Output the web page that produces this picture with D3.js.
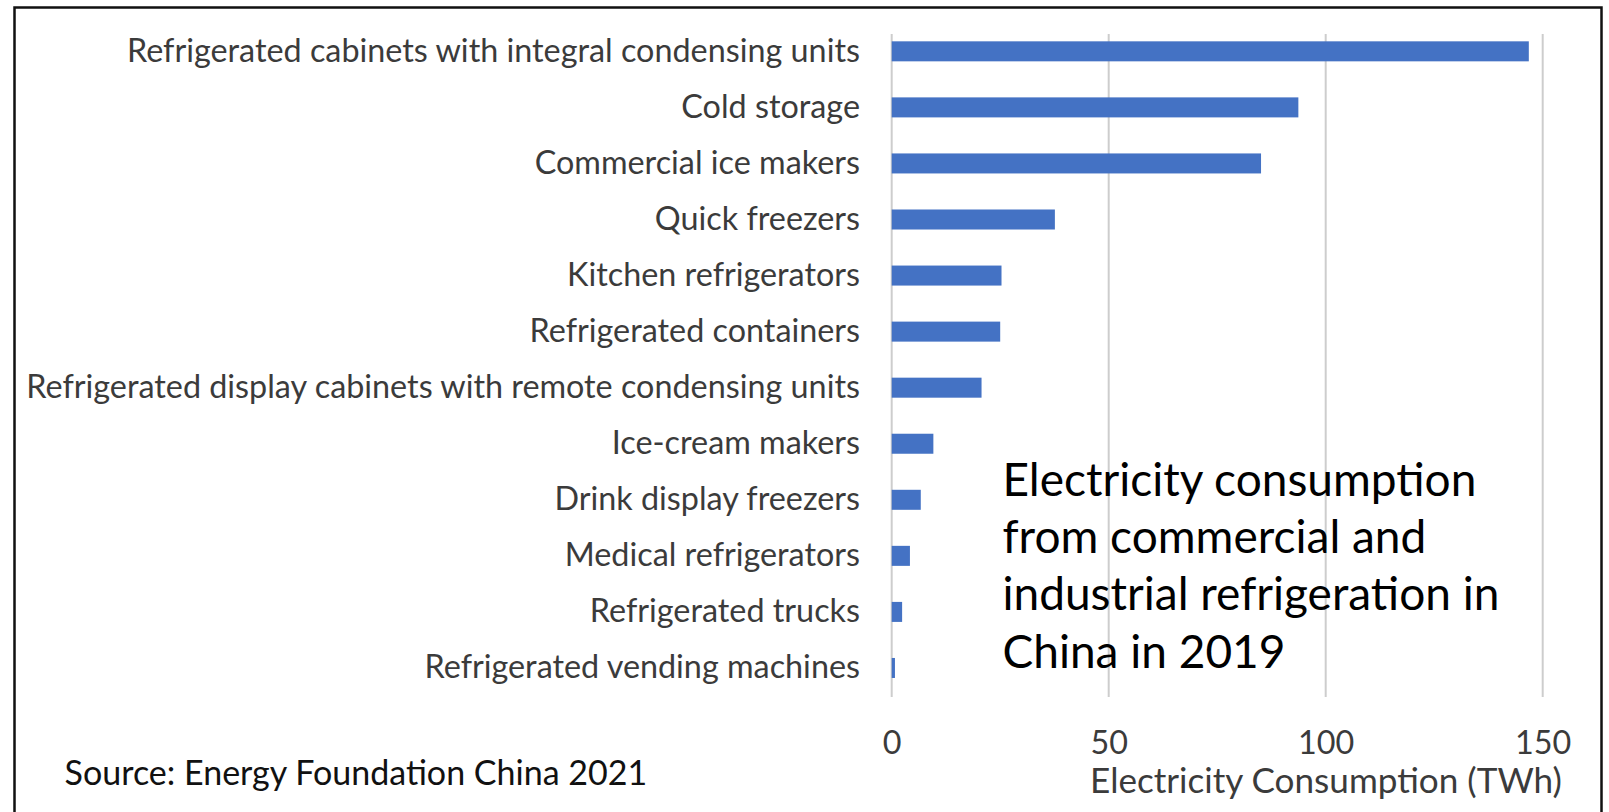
<!DOCTYPE html>
<html>
<head>
<meta charset="utf-8">
<script src="https://cdn.jsdelivr.net/npm/d3@7"></script>
<style>
  html, body { margin: 0; padding: 0; background: #fff; }
  svg { display: block; }
</style>
</head>
<body>
<svg id="chart" width="1609" height="812"></svg>
<script>
// Electricity use by refrigeration equipment type, China 2019 (TWh)
const categories = [
  "Refrigerated cabinets with integral condensing units",
  "Cold storage",
  "Commercial ice makers",
  "Quick freezers",
  "Kitchen refrigerators",
  "Refrigerated containers",
  "Refrigerated display cabinets with remote condensing units",
  "Ice-cream makers",
  "Drink display freezers",
  "Medical refrigerators",
  "Refrigerated trucks",
  "Refrigerated vending machines"
];
const consumption = [146.8, 93.7, 85.1, 37.6, 25.3, 25.0, 20.7, 9.6, 6.7, 4.2, 2.4, 0.75];
const tickValues = [0, 50, 100, 150];
const axisTitle = "Electricity Consumption (TWh)";
const noteLines = [
  "Electricity consumption",
  "from commercial and",
  "industrial refrigeration in",
  "China in 2019"
];
const sourceText = "Source: Energy Foundation China 2021";

const svg = d3.select("#chart");
const labelFont = "Lato, 'Open Sans', sans-serif";

// fit a text element's font size to a target width
function fitWidth(sel, target) {
  sel.attr("font-size", 100);
  const w = sel.node().getComputedTextLength();
  sel.attr("font-size", 100 * target / w);
  return 100 * target / w;
}

// outer frame
svg.append("rect")
  .attr("x", 14.5).attr("y", 7.5)
  .attr("width", 1587).attr("height", 820)
  .attr("fill", "none")
  .attr("stroke", "#111")
  .attr("stroke-width", 2.5);

const x = d3.scaleLinear().domain([0, 150]).range([891.7, 1542.7]);
const y = d3.scaleBand().domain(categories).range([23.3, 696]).paddingInner(0.643).paddingOuter(0.3215);

// vertical gridlines
svg.append("g").selectAll("line")
  .data(tickValues)
  .join("line")
  .attr("x1", d => x(d)).attr("x2", d => x(d))
  .attr("y1", 34).attr("y2", 697)
  .attr("stroke", "#cdcdcd")
  .attr("stroke-width", 2);

// bars
svg.append("g").selectAll("rect")
  .data(consumption)
  .join("rect")
  .attr("x", x(0))
  .attr("y", (d, i) => y(categories[i]))
  .attr("width", d => x(d) - x(0))
  .attr("height", y.bandwidth())
  .attr("fill", "#4472C4");

// category labels
const catG = svg.append("g")
  .attr("font-family", labelFont)
  .attr("fill", "#3b3b3b")
  .attr("text-anchor", "end");
const cats = catG.selectAll("text")
  .data(categories)
  .join("text")
  .attr("x", 860)
  .attr("y", d => y(d) + y.bandwidth() / 2 + 10.5)
  .text(d => d);
// size all labels from the longest one
const longest = cats.filter(d => d === categories[6]);
const catSize = fitWidth(longest, 834);
cats.attr("font-size", catSize);

// x axis tick labels
const xAxis = d3.axisBottom(x).tickValues(tickValues).tickSize(0).tickPadding(0);
const axG = svg.append("g")
  .attr("transform", "translate(0,754)")
  .call(xAxis);
axG.select(".domain").remove();
axG.selectAll("text")
  .attr("font-family", labelFont)
  .attr("fill", "#3b3b3b")
  .attr("font-size", catSize)
  .attr("dy", 0)
  .attr("y", 0);

// axis title
const at = svg.append("text")
  .attr("x", 1326).attr("y", 793)
  .attr("text-anchor", "middle")
  .attr("font-family", labelFont)
  .attr("fill", "#3b3b3b")
  .text(axisTitle);
fitWidth(at, 472);

// annotation
const note = svg.append("text")
  .attr("font-family", labelFont)
  .attr("fill", "#000");
note.selectAll("tspan")
  .data(noteLines)
  .join("tspan")
  .attr("x", 1002.5)
  .attr("y", (d, i) => 496 + i * 57.2)
  .text(d => d);
note.attr("font-size", 100);
const w3 = note.selectAll("tspan").filter((d, i) => i === 2).node().getComputedTextLength();
note.attr("font-size", 100 * 497 / w3);

// source line
const src = svg.append("text")
  .attr("x", 64.6).attr("y", 785)
  .attr("font-family", labelFont)
  .attr("fill", "#111")
  .text(sourceText);
fitWidth(src, 583);
</script>
</body>
</html>
